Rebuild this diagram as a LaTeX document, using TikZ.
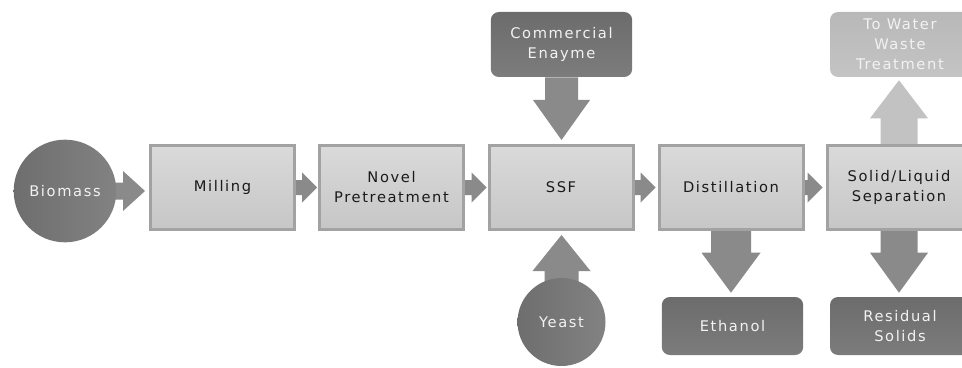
\documentclass[tikz,border=0pt]{standalone}
\usepackage{fontspec}
\setmainfont{DejaVu Sans}[LetterSpace=11]
\usetikzlibrary{calc,backgrounds}
\newcommand\pxu{0.75pt}
\definecolor{boxtop}{HTML}{DADADA}
\definecolor{boxbot}{HTML}{C6C6C6}
\definecolor{boxline}{HTML}{A2A2A2}
\definecolor{darktop}{HTML}{6C6C6C}
\definecolor{darkbot}{HTML}{7C7C7C}
\definecolor{lighttop}{HTML}{B8B8B8}
\definecolor{lightbot}{HTML}{C4C4C4}
\definecolor{circl}{HTML}{6E6E6E}
\definecolor{circr}{HTML}{828282}
\definecolor{arrowgray}{HTML}{8A8A8A}
\definecolor{arrowlight}{HTML}{C2C2C2}
\definecolor{txt}{HTML}{1A1A1A}
\definecolor{wtxt}{HTML}{F2F2F2}
% fat arrows: [colour]{from}{to}{half shaft}{half head}{head length}{gap} (px)
\newcommand\fatright[7][arrowgray]{%
  \fill[#1] let \p1=(#2), \p2=(#3) in
   (\x1,{\y1+#4*\pxu}) -- ({\x2-(#6+#7)*\pxu},{\y1+#4*\pxu}) -- ({\x2-(#6+#7)*\pxu},{\y1+#5*\pxu})
   -- ({\x2-#7*\pxu},\y1) -- ({\x2-(#6+#7)*\pxu},{\y1-#5*\pxu}) -- ({\x2-(#6+#7)*\pxu},{\y1-#4*\pxu})
   -- (\x1,{\y1-#4*\pxu}) -- cycle;}
\newcommand\fatdown[7][arrowgray]{%
  \fill[#1] let \p1=(#2), \p2=(#3) in
   ({\x1-#4*\pxu},\y1) -- ({\x1-#4*\pxu},{\y2+(#6+#7)*\pxu}) -- ({\x1-#5*\pxu},{\y2+(#6+#7)*\pxu})
   -- (\x1,{\y2+#7*\pxu}) -- ({\x1+#5*\pxu},{\y2+(#6+#7)*\pxu}) -- ({\x1+#4*\pxu},{\y2+(#6+#7)*\pxu})
   -- ({\x1+#4*\pxu},\y1) -- cycle;}
\newcommand\fatup[7][arrowgray]{%
  \fill[#1] let \p1=(#2), \p2=(#3) in
   ({\x1-#4*\pxu},\y1) -- ({\x1-#4*\pxu},{\y2-(#6+#7)*\pxu}) -- ({\x1-#5*\pxu},{\y2-(#6+#7)*\pxu})
   -- (\x1,{\y2-#7*\pxu}) -- ({\x1+#5*\pxu},{\y2-(#6+#7)*\pxu}) -- ({\x1+#4*\pxu},{\y2-(#6+#7)*\pxu})
   -- ({\x1+#4*\pxu},\y1) -- cycle;}
\begin{document}
\begin{tikzpicture}[x=0.75pt,y=-0.75pt,
  every node/.style={font=\fontsize{11}{15}\selectfont, align=center, inner sep=0pt},
  procbox/.style={draw=boxline, line width=2.25pt, top color=boxtop, bottom color=boxbot,
    minimum width=108pt, minimum height=63pt, text=txt},
  darkbox/.style={rounded corners=6pt, top color=darktop, bottom color=darkbot,
    minimum width=106pt, text=wtxt},
  lightbox/.style={rounded corners=6pt, top color=lighttop, bottom color=lightbot,
    minimum width=106pt, text=wtxt},
  roundsrc/.style={circle, left color=circl, right color=circr, text=wtxt}]
\useasboundingbox (0,0) rectangle (962,367);
% main row
\node[procbox] (mill)  at (222.5,187.5) {Milling};
\node[procbox] (novel) at (391.5,187.5) {Novel\\Pretreatment};
\node[procbox] (ssf)   at (561,187.5)   {SSF};
\node[procbox] (dist)  at (731,187.5)   {Distillation};
\node[procbox] (sep)   at (899,187.5)   {Solid/Liquid\\Separation};
% sources and products
\node[roundsrc, minimum size=77pt] (bio) at (65,191) {Biomass};
\node[roundsrc, minimum size=66pt] (yeast) at (561.5,322) {\raisebox{-4pt}{Yeast}};
\node[darkbox, minimum height=48.75pt] (enz) at (561.5,44.5) {Commercial\\Enayme};
\node[darkbox, minimum height=43.5pt] (eth) at (732.5,326) {Ethanol};
\node[darkbox, minimum height=43.5pt, minimum width=105pt] (res) at (900,326) {Residual\\Solids};
\node[lightbox, minimum height=48.75pt, minimum width=105pt] (water) at (900,44.5) {To Water\\Waste\\Treatment};
% connectors
\begin{pgfonlayer}{background}
\fatright{bio.center}{mill.west}{8.5}{20}{22}{4}
\fatright{mill.east}{novel.west}{7.5}{15}{15}{1}
\fatright{novel.east}{ssf.west}{7.5}{15}{15}{1}
\fatright{ssf.east}{dist.west}{7.5}{15}{15}{2}
\fatright{dist.east}{sep.west}{7.5}{15}{15}{3}
\fatdown{enz.south}{ssf.north}{16.5}{28.5}{40}{4}
\fatup{yeast.center}{ssf.south}{17}{29}{36}{4}
\fatdown{dist.south}{eth.north}{20}{29.5}{40}{4}
\fatdown{sep.south}{res.north}{18.5}{29}{40}{4}
\fatup[arrowlight]{sep.north}{water.south}{18.5}{29}{38}{3}
\end{pgfonlayer}
\end{tikzpicture}
\end{document}
